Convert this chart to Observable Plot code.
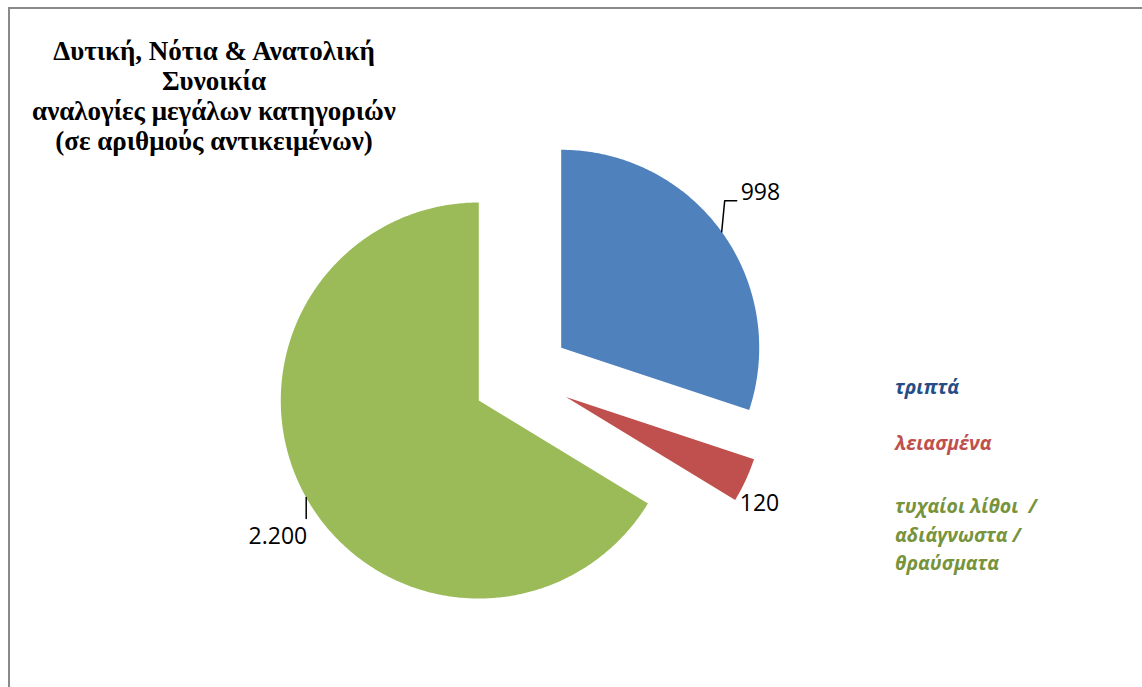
<!DOCTYPE html>
<html><head><meta charset="utf-8">
<script src="https://cdn.jsdelivr.net/npm/d3@7"></script>
<script src="https://cdn.jsdelivr.net/npm/@observablehq/plot@0.6"></script>
<style>
body{margin:0;background:#fff;}
#wrap{position:relative;width:1142px;height:687px;overflow:hidden;background:#fff;}
#frame{position:absolute;left:8px;top:7px;right:-10px;bottom:-10px;border-top:2px solid #8a8a8a;border-left:2px solid #8a8a8a;}
#title{position:absolute;left:0px;width:428px;top:36px;text-align:center;font-family:"Liberation Serif","Times New Roman",serif;font-weight:bold;font-size:27px;line-height:30px;color:#000;}
#legend{position:absolute;left:895px;top:0;font-family:"Open Sans",sans-serif;font-weight:bold;font-style:italic;font-size:19.5px;line-height:28.5px;}
#legend div{position:absolute;left:0;white-space:pre;}
#chart{position:absolute;left:0;top:0;}
</style></head>
<body>
<div id="wrap">
  <div id="frame"></div>
  <div id="chart"></div>
  <div id="title"></div>
  <div id="legend"></div>
</div>
<script>
// ---- data ----
const titleLines = ["Δυτική, Νότια & Ανατολική", "Συνοικία", "αναλογίες μεγάλων κατηγοριών", "(σε αριθμούς αντικειμένων)"];
const categories = ["τριπτά", "λειασμένα", "τυχαίοι λίθοι  / αδιάγνωστα / θραύσματα"];
const values = [998, 120, 2200];
const valueLabels = ["998", "120", "2.200"];

// ---- styles / layout ----
const sliceColors = ["#4F81BD", "#C0504D", "#9BBB59"];
const legendColors = ["#254E86", "#C0504D", "#77933C"];
const W = 1142, H = 687;
const cx = 521, cy = 376, R = 198, explode = 49;

// title
document.getElementById("title").innerHTML = titleLines.map(t => `<div>${t}</div>`).join("");
// legend
const legendTops = [373, 429, 492];
const legendLines = [["τριπτά"], ["λειασμένα"], ["τυχαίοι λίθοι  /", "αδιάγνωστα /", "θραύσματα"]];
document.getElementById("legend").innerHTML = categories.map((c, i) =>
  `<div style="top:${legendTops[i]}px;color:${legendColors[i]}">${legendLines[i].join("\n")}</div>`).join("");

// pie geometry from values
const arcs = d3.pie().sort(null)(values);
const polys = [];
const labelPts = [];
arcs.forEach((a, i) => {
  const mid = (a.startAngle + a.endAngle) / 2;
  const ox = explode * Math.sin(mid), oy = -explode * Math.cos(mid);
  polys.push({k: i, x: ox, y: oy});
  const n = Math.max(4, Math.ceil((a.endAngle - a.startAngle) / 0.01));
  for (let j = 0; j <= n; j++) {
    const t = a.startAngle + (a.endAngle - a.startAngle) * j / n;
    polys.push({k: i, x: ox + R * Math.sin(t), y: oy - R * Math.cos(t)});
  }
  labelPts.push({k: i, x: ox + R * Math.sin(mid), y: oy - R * Math.cos(mid), label: valueLabels[i]});
});

// label offsets relative to slice edge midpoint (layout)
const labelOffsets = [
  {dx: 19, dy: -39, anchor: "start", leader: [[0, 0], [3, -31], [15, -31]]},
  {dx: -6, dy: 24, anchor: "start", leader: null},
  {dx: 1, dy: 39, anchor: "end", leader: [[0, 0], [0, 21]]}
];
const leaders = [];
labelPts.forEach((p, i) => {
  const o = labelOffsets[i];
  if (o.leader) o.leader.forEach(([dx, dy]) => leaders.push({k: i, x: p.x + dx, y: p.y + dy}));
});
const textData = labelPts.map((p, i) => ({...p, x: p.x + labelOffsets[i].dx, y: p.y + labelOffsets[i].dy, anchor: labelOffsets[i].anchor}));

const marks = [];
[0, 1, 2].forEach(i => {
  marks.push(Plot.line(polys.filter(d => d.k === i), {x: "x", y: "y", fill: sliceColors[i], stroke: "none"}));
});
marks.push(Plot.line(leaders, {x: "x", y: "y", z: "k", stroke: "#000", strokeWidth: 1.5}));
["start", "end"].forEach(an => {
  marks.push(Plot.text(textData.filter(d => d.anchor === an), {x: "x", y: "y", text: "label", textAnchor: an,
    fontSize: 23, fontFamily: "Open Sans", fill: "#000", lineAnchor: "middle"}));
});

const plot = Plot.plot({
  width: W, height: H,
  margin: 0,
  x: {domain: [-cx, W - cx], range: [0, W], axis: null},
  y: {domain: [-cy, H - cy], range: [0, H], axis: null},
  style: {background: "transparent", overflow: "visible"},
  marks
});
document.getElementById("chart").appendChild(plot);
</script>
</body></html>
